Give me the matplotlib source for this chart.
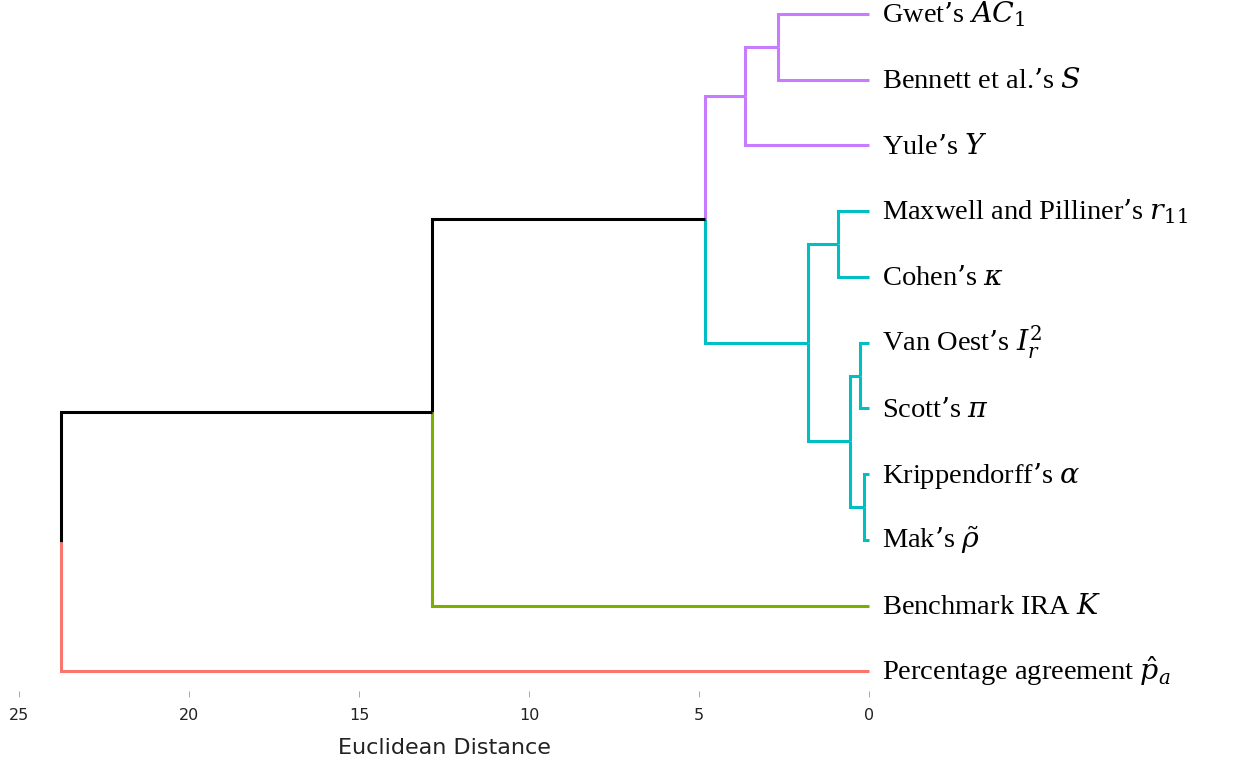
import matplotlib
matplotlib.use("Agg")
import matplotlib.pyplot as plt

# ---- data ----
leaf_labels = [
    "Gwet\u2019s $AC_1$",
    "Bennett et al.\u2019s $S$",
    "Yule\u2019s $Y$",
    "Maxwell and Pilliner\u2019s $r_{11}$",
    "Cohen\u2019s $\\kappa$",
    "Van Oest\u2019s $I_r^2$",
    "Scott\u2019s $\\pi$",
    "Krippendorff\u2019s $\\alpha$",
    "Mak\u2019s $\\tilde{\\rho}$",
    "Benchmark IRA $K$",
    "Percentage agreement $\\hat{p}_a$",
]
# merges: (child_a, child_b, height); new node ids start at len(leaf_labels)
merge_a = [0, 11, 7, 5, 14, 3, 16, 12, 18, 19]
merge_b = [1, 2, 8, 6, 13, 4, 15, 17, 9, 10]
merge_h = [2.68, 3.65, 0.15, 0.26, 0.56, 0.91, 1.79, 4.82, 12.85, 23.79]
# cluster of each leaf (k = 4)
leaf_cluster = [0, 0, 0, 1, 1, 1, 1, 1, 1, 2, 3]
cluster_colors = ["#C77CFF", "#00BFC4", "#7CAE00", "#F8766D"]
x_ticks = [25, 20, 15, 10, 5, 0]

plt.rcParams["mathtext.fontset"] = "dejavuserif"

fig = plt.figure(figsize=(12.37, 7.63), dpi=100)
ax = fig.add_axes([19.5 / 1237, 72 / 763, (869 - 19.5) / 1237, (691 - 14) / 763])

n = len(leaf_labels)
ypos = {i: float(i) for i in range(n)}
hpos = {i: 0.0 for i in range(n)}
members = {i: {leaf_cluster[i]} for i in range(n)}
for k, (a, b, h) in enumerate(zip(merge_a, merge_b, merge_h)):
    node = n + k
    ypos[node] = (ypos[a] + ypos[b]) / 2
    hpos[node] = h
    members[node] = members[a] | members[b]

def col(node):
    m = members[node]
    return cluster_colors[next(iter(m))] if len(m) == 1 else "black"

for k, (a, b, h) in enumerate(zip(merge_a, merge_b, merge_h)):
    node = n + k
    for c in (a, b):
        ax.plot([h, h, hpos[c]], [ypos[node], ypos[c], ypos[c]], color=col(c),
                lw=2.2, solid_capstyle="butt", solid_joinstyle="miter", clip_on=False)

for i, lab in enumerate(leaf_labels):
    ax.text(-0.38, i + 0.13, lab, ha="left", va="baseline", fontsize=20.5,
            family="Liberation Serif", clip_on=False)

ax.set_xlim(25, 0)
ax.set_ylim(10.3, 0)
ax.set_xticks(x_ticks)
ax.set_xticklabels([str(t) for t in x_ticks], family="DejaVu Sans", fontsize=11.5)
ax.set_yticks([])
ax.tick_params(axis="x", length=4, width=0.6, color="#999999", pad=8, labelcolor="#222222")
for s in ax.spines.values():
    s.set_visible(False)
ax.set_xlabel("Euclidean Distance", fontsize=16, family="DejaVu Sans", labelpad=11, color="#222222")

fig.savefig("out.png", dpi=100)
